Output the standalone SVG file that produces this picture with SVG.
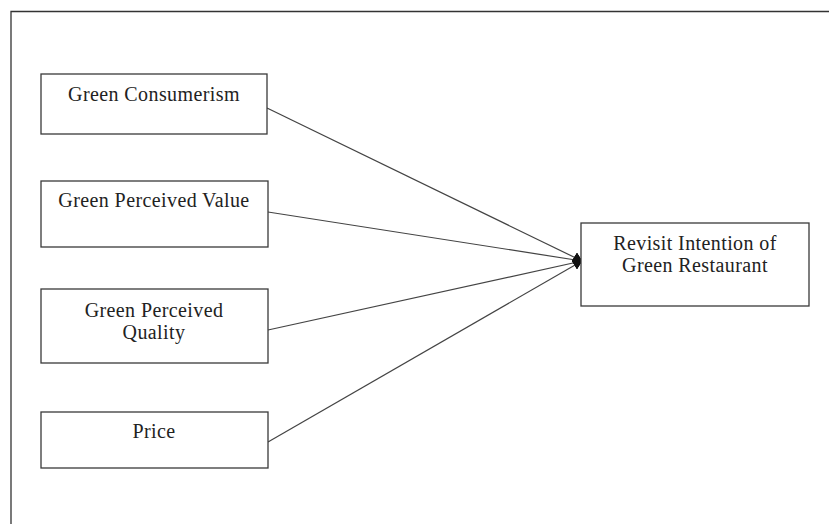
<svg xmlns="http://www.w3.org/2000/svg" width="829" height="524" viewBox="0 0 829 524">
  <style>
    .box { fill: #ffffff; stroke: #3a3a3a; stroke-width: 1.3; }
    .lbl { font-family: "Liberation Serif", "Times New Roman", serif; font-size: 20px; fill: #222; text-anchor: middle; letter-spacing: 0.4px; }
    .conn { stroke: #444; stroke-width: 1.2; fill: none; marker-end: url(#diamond); }
    .frame { stroke: #333; stroke-width: 1.3; fill: none; }
  </style>
  <defs>
    <marker id="diamond" markerUnits="userSpaceOnUse" markerWidth="10" markerHeight="16" refX="10" refY="8" orient="0">
      <path d="M0,8 L5,0 L10,8 L5,16 Z" fill="#111"/>
    </marker>
  </defs>
  <rect width="829" height="524" fill="#ffffff"/>
  <path class="frame" d="M11,524 L11,11.5 L829,11.5"/>

  <g id="connectors">
    <line class="conn" x1="267" y1="108" x2="582" y2="261"/>
    <line class="conn" x1="268" y1="212" x2="582" y2="261"/>
    <line class="conn" x1="268" y1="330" x2="582" y2="261"/>
    <line class="conn" x1="268" y1="442" x2="582" y2="261"/>
  </g>

  <g id="green-consumerism">
    <rect class="box" x="41" y="74" width="226" height="60"/>
    <text class="lbl" x="154" y="101">Green Consumerism</text>
  </g>
  <g id="green-perceived-value">
    <rect class="box" x="41" y="181" width="227" height="66"/>
    <text class="lbl" x="154" y="207">Green Perceived Value</text>
  </g>
  <g id="green-perceived-quality">
    <rect class="box" x="41" y="289" width="227" height="74"/>
    <text class="lbl" x="154" y="317">Green Perceived</text>
    <text class="lbl" x="154" y="339">Quality</text>
  </g>
  <g id="price">
    <rect class="box" x="41" y="412" width="227" height="56"/>
    <text class="lbl" x="154" y="438">Price</text>
  </g>
  <g id="revisit-intention">
    <rect class="box" x="581" y="223" width="228" height="83"/>
    <text class="lbl" x="695" y="250">Revisit Intention of</text>
    <text class="lbl" x="695" y="272">Green Restaurant</text>
  </g>
</svg>
